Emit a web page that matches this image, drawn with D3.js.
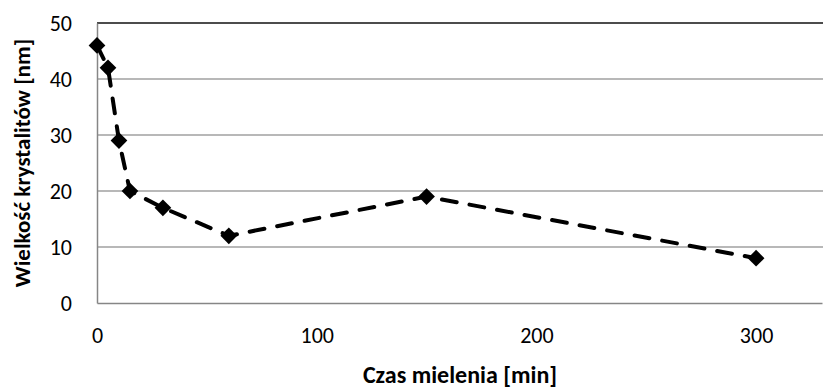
<!DOCTYPE html>
<html>
<head>
<meta charset="utf-8">
<script src="https://cdn.jsdelivr.net/npm/d3@7"></script>
<style>
  body { margin: 0; background: #fff; }
  text { font-family: Calibri, Carlito, Lato, sans-serif; fill: #000; }
</style>
</head>
<body>
<div id="chart"></div>
<script>
// milling time [min] vs crystallite size [nm]
let times = [0, 5, 10, 15, 30, 60, 150, 300];
let sizes = [46, 42, 29, 20, 17, 12, 19, 8];
let xTicks = [0, 100, 200, 300];
let yTicks = [0, 10, 20, 30, 40, 50];

let width = 823, height = 390;
let margin = {left: 97, right: 1, top: 23, bottom: 87};

let data = times.map((t, i) => ({t: t, v: sizes[i]}));

let x = d3.scaleLinear()
		.domain([0, 330])
		.range([margin.left, width - margin.right]);

let y = d3.scaleLinear()
		.domain([0, 50])
		.range([height - margin.bottom, margin.top]);

let svg = d3.select('#chart')
		.append('svg')
		.attr('width', width)
		.attr('height', height);

// gridlines
svg.append('g')
		.selectAll('line')
		.data(yTicks.filter(d => d > 0))
		.enter()
		.append('line')
		.attr('x1', x(0))
		.attr('x2', width)
		.attr('y1', d => y(d))
		.attr('y2', d => y(d))
		.attr('stroke', d => d === 50 ? '#111' : '#a0a0a0')
		.attr('stroke-width', d => d === 50 ? 1.5 : 1.3);

// axes
let yAxis = svg.append('g')
		.attr('transform', `translate(${x(0)},0)`)
		.call(d3.axisLeft(y).tickValues(yTicks).tickSize(0).tickPadding(25));

let xAxis = svg.append('g')
		.attr('transform', `translate(0,${y(0)})`)
		.call(d3.axisBottom(x).tickValues(xTicks).tickSize(0).tickPadding(24));

[xAxis, yAxis].forEach(ax => {
	ax.select('.domain').attr('stroke', '#868686').attr('stroke-width', 1.5);
	ax.selectAll('text').style('font-size', '22px').attr('fill', '#000');
});

// dashed series line
let line = d3.line()
		.x(d => x(d.t))
		.y(d => y(d.v));

svg.append('path')
		.datum(data)
		.attr('d', line)
		.attr('fill', 'none')
		.attr('stroke', '#000')
		.attr('stroke-width', 4)
		.attr('stroke-linecap', 'round')
		.attr('stroke-dasharray', '15,13');

// diamond markers
svg.append('g')
		.selectAll('path')
		.data(data)
		.enter()
		.append('path')
		.attr('d', d3.symbol().type(d3.symbolSquare).size(140))
		.attr('transform', d => `translate(${x(d.t)},${y(d.v)}) rotate(45)`)
		.attr('fill', '#000');

// axis titles
svg.append('text')
		.attr('x', (x(0) + width) / 2)
		.attr('y', 383)
		.attr('text-anchor', 'middle')
		.style('font-size', '24px')
		.style('font-weight', 'bold')
		.text('Czas mielenia [min]');

svg.append('text')
		.attr('transform', `translate(30,${(y(0) + y(50)) / 2}) rotate(-90)`)
		.attr('text-anchor', 'middle')
		.style('font-size', '23px')
		.style('font-weight', 'bold')
		.text('Wielkość krystalitów [nm]');
</script>
</body>
</html>
